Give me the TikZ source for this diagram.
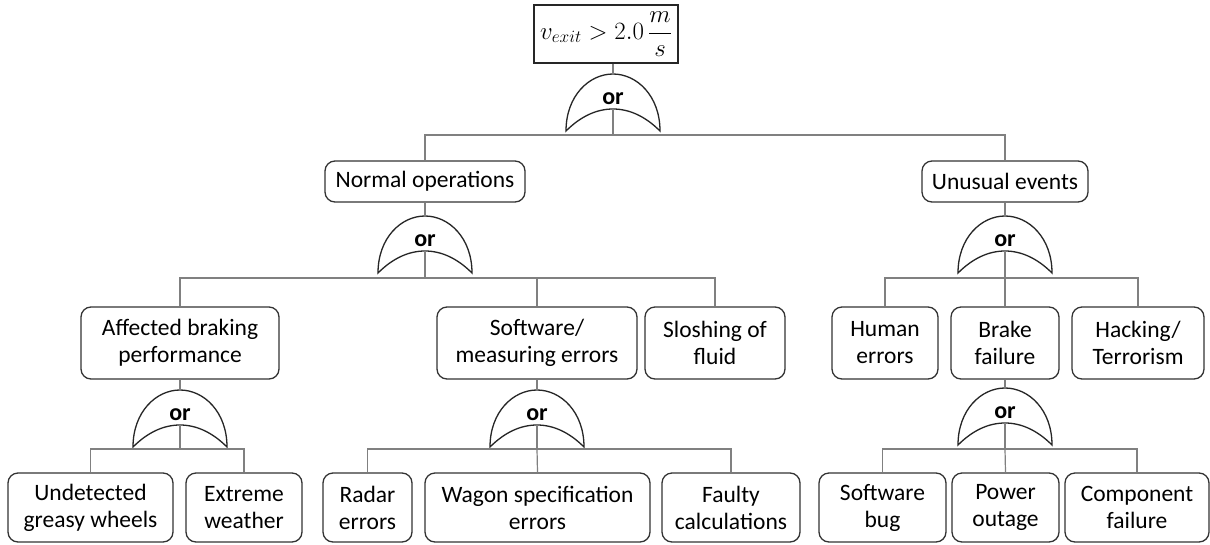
\documentclass[tikz,border=0pt]{standalone}
\usepackage{fontspec}
\setmainfont{Carlito}
\begin{document}
\begin{tikzpicture}[x=1pt,y=-1pt,
  box/.style={draw=black!80,line width=1.3pt,rounded corners=10pt,align=center,inner sep=0pt,
    font=\fontsize{23.5}{27}\selectfont,text=black},
  conn/.style={draw=black!50,line width=1.2pt},
  gateline/.style={draw=black!85,line width=1.3pt,fill=white},
  orgate/.pic={
    \draw[gateline] (-47,57) .. controls (-47,22) and (-24,0) .. (0,0)
       .. controls (24,0) and (47,22) .. (47,57)
       .. controls (32,42) and (16,35) .. (0,35)
       .. controls (-16,35) and (-32,42) .. (-47,57) -- cycle;
    \coordinate (-top) at (0,0);
    \coordinate (-in) at (0,35);
    \node[font=\bfseries\fontsize{24}{24}\selectfont,text=black] at (0,25) {or};
  }]
\useasboundingbox[fill=white] (0,0) rectangle (1210,544);

% root
\node[draw=black!85,line width=1.2pt,minimum width=144pt,minimum height=58pt,inner sep=0pt,
  font=\fontsize{26}{30}\selectfont] (root) at (606,34)
  {$\displaystyle v_{exit} > 2.0\,\frac{m}{s}$};

% level 1
\node[box,minimum width=200pt,minimum height=41pt] (normal) at (425,181.5) {Normal operations};
\node[box,minimum width=166pt,minimum height=41pt] (unusual) at (1005,181.5) {Unusual events};

% level 2
\node[box,minimum width=198pt,minimum height=72pt] (affected) at (180,343) {Affected braking\\performance};
\node[box,minimum width=200pt,minimum height=72pt] (software) at (537,343) {Software/\\measuring errors};
\node[box,minimum width=140pt,minimum height=72pt] (sloshing) at (715,343) {Sloshing of\\fluid};
\node[box,minimum width=106pt,minimum height=72pt] (human) at (885,343) {Human\\errors};
\node[box,minimum width=108pt,minimum height=72pt] (brake) at (1005,343) {Brake\\failure};
\node[box,minimum width=132pt,minimum height=72pt] (hacking) at (1138,343) {Hacking/\\Terrorism};

% level 3
\node[box,minimum width=165pt,minimum height=69pt] (undetected) at (90.5,507.5) {Undetected\\greasy wheels};
\node[box,minimum width=116pt,minimum height=69pt] (extreme) at (244,507.5) {Extreme\\weather};
\node[box,minimum width=89pt,minimum height=69pt] (radar) at (367.5,507.5) {Radar\\errors};
\node[box,minimum width=225pt,minimum height=69pt] (wagon) at (537.5,507.5) {Wagon specification\\errors};
\node[box,minimum width=138pt,minimum height=69pt] (faulty) at (731,507.5) {Faulty\\calculations};
\node[box,minimum width=127pt,minimum height=69pt] (swbug) at (882.5,507.5) {Software\\bug};
\node[box,minimum width=107pt,minimum height=69pt] (power) at (1005.5,507.5) {Power\\outage};
\node[box,minimum width=144pt,minimum height=69pt] (component) at (1137,507.5) {Component\\failure};

% gates
\pic (g0) at (613,74) {orgate};
\pic (g1) at (425,216) {orgate};
\pic (g2) at (1005,216) {orgate};
\pic (g3) at (180,390) {orgate};
\pic (g4) at (537,390) {orgate};
\pic (g5) at (1005,388) {orgate};

% bus points
\coordinate (b0) at (613,135);
\coordinate (b1) at (425,278);
\coordinate (b2) at (1005,278);
\coordinate (b3) at (180,449);
\coordinate (b4) at (537,449);
\coordinate (b5) at (1005,449);

% connectors
\draw[conn] (root.south -| g0-top) -- (g0-top);
\draw[conn] (g0-in) -- (b0);
\draw[conn] (b0) -| (normal.north);
\draw[conn] (b0) -| (unusual.north);

\draw[conn] (normal.south) -- (g1-top);
\draw[conn] (g1-in) -- (b1);
\draw[conn] (b1) -| (affected.north);
\draw[conn] (b1) -| (software.north);
\draw[conn] (b1) -| (sloshing.north);

\draw[conn] (unusual.south) -- (g2-top);
\draw[conn] (g2-in) -- (b2);
\draw[conn] (b2) -| (human.north);
\draw[conn] (b2) -- (brake.north);
\draw[conn] (b2) -| (hacking.north);

\draw[conn] (affected.south) -- (g3-top);
\draw[conn] (g3-in) -- (b3);
\draw[conn] (b3) -| (undetected.north);
\draw[conn] (b3) -| (extreme.north);

\draw[conn] (software.south) -- (g4-top);
\draw[conn] (g4-in) -- (b4);
\draw[conn] (b4) -| (radar.north);
\draw[conn] (b4) -- (wagon.north);
\draw[conn] (b4) -| (faulty.north);

\draw[conn] (brake.south) -- (g5-top);
\draw[conn] (g5-in) -- (b5);
\draw[conn] (b5) -| (swbug.north);
\draw[conn] (b5) -- (power.north);
\draw[conn] (b5) -| (component.north);
\end{tikzpicture}
\end{document}
